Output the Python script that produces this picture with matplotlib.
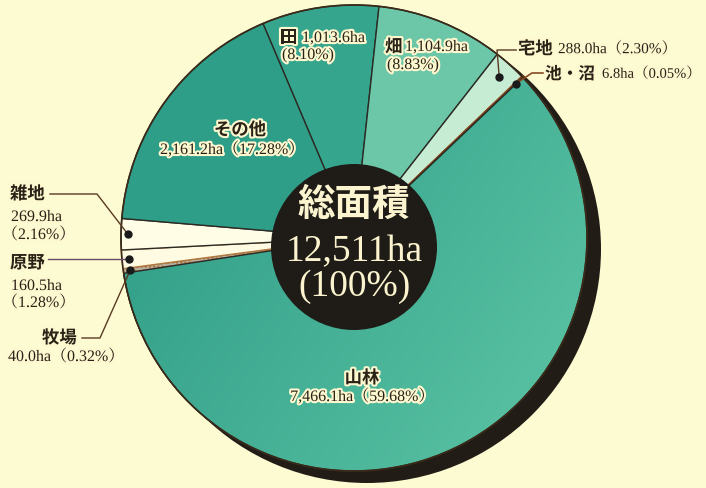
import matplotlib
matplotlib.use("Agg")
import matplotlib.pyplot as plt
import numpy as np
from matplotlib.patches import Wedge, Circle
import matplotlib.patheffects as pe

# ---------------- data ----------------
categories = ['田', '畑', '宅地', '池・沼', '山林', '牧場', '原野', '雑地', 'その他']
areas = [1013.6, 1104.9, 288.0, 6.8, 7466.1, 40.0, 160.5, 269.9, 2161.2]
percents = [8.10, 8.83, 2.30, 0.05, 59.68, 0.32, 1.28, 2.16, 17.28]
total_label = '総面積'
total_area = 12511
total_pct = 100

# ---------------- style ----------------
BG = '#fdfbd2'
colors = ['#35a58d', '#6cc6a8', '#c6ecd3', '#fcf8dc', '#3aae93',
          '#b8b0a2', '#fffbe2', '#fffde6', '#2f9e88']
edges = ['#2b2b25', '#2b2b25', '#2b2b25', '#8a4a20', '#2b2b25',
         '#a86a35', '#b07a40', '#2b2b25', '#2b2b25']

W, H = 706, 488
fig = plt.figure(figsize=(W / 100, H / 100), dpi=100, facecolor=BG)
ax = fig.add_axes([0, 0, 1, 1])
ax.set_xlim(0, W)
ax.set_ylim(0, H)
ax.set_aspect('equal')
ax.axis('off')
ax.set_facecolor(BG)


def Y(y):
    return H - y


cx, cy, R = 354, Y(238), 233
start = 113.0

# shadow
ax.add_patch(Circle((cx + 13, cy - 11), R + 1, facecolor='#221c16', edgecolor='none', zorder=1))

tot = sum(areas)
angles = []
a = start
wedges = []
for i, v in enumerate(areas):
    span = v / tot * 360
    t2, t1 = a, a - span
    angles.append((t1, t2))
    lw = 1.0
    if categories[i] == '池・沼':
        lw = 2.2
    w = Wedge((cx, cy), R, t1, t2, facecolor=colors[i], edgecolor=edges[i],
              linewidth=lw, zorder=2)
    if categories[i] == '牧場':
        w.set_hatch('....')
    ax.add_patch(w)
    wedges.append(w)
    a = t1

# gradient on 山林
i_m = categories.index('山林')
gx, gy = np.meshgrid(np.linspace(0, 1, 200), np.linspace(0, 1, 200))
g = np.clip(0.6 * gx + 0.4 * (1 - gy), 0, 1)
c0 = np.array([0x28, 0x96, 0x82]) / 255
c1 = np.array([0x5e, 0xc6, 0xa6]) / 255
img = c0[None, None, :] * (1 - g[..., None]) + c1[None, None, :] * g[..., None]
im = ax.imshow(img, extent=(cx - R, cx + R, cy - R, cy + R), origin='lower',
               zorder=2.1, interpolation='bilinear')
im.set_clip_path(wedges[i_m])
ax.add_patch(Wedge((cx, cy), R, *angles[i_m], facecolor='none', edgecolor=edges[i_m],
                   linewidth=1.0, zorder=2.2))

# pie outline
ax.add_patch(Circle((cx, cy), R, facecolor='none', edgecolor='#3a2a1a', linewidth=1.2, zorder=2.3))

# center disc
ax.add_patch(Circle((354, Y(247)), 83, facecolor='#1f1c17', edgecolor='none', zorder=3))

halo = [pe.withStroke(linewidth=3, foreground='#fdf8d0')]
JP = 'Noto Sans CJK JP'
SERIF = ['Liberation Serif', 'Noto Serif CJK JP', 'Noto Sans CJK JP']
TXT = '#2a2216'


def fmt_a(v):
    return f'{v:,.1f}ha'


def fmt_p(p):
    return f'（{p:.2f}%）'


def fmt_p2(p):
    return f'({p:.2f}%)'


def lab(x, y, s, size=12.5, ha='left', va='center'):
    ax.text(x, Y(y), s, fontsize=size, family=JP, weight='bold', color=TXT,
            ha=ha, va=va, path_effects=halo, zorder=6)


def num(x, y, s, size=11.5, ha='left', va='center'):
    ax.text(x, Y(y), s, fontsize=size, family=SERIF, color=TXT,
            ha=ha, va=va, path_effects=halo, zorder=6)


k = {c: i for i, c in enumerate(categories)}

# 田
i = k['田']
lab(280, 38, categories[i])
num(302, 38, fmt_a(areas[i]))
num(282, 55, fmt_p2(percents[i]))
# 畑
i = k['畑']
lab(385, 47, categories[i])
num(405, 47, fmt_a(areas[i]))
num(387, 65, fmt_p2(percents[i]))
# 宅地
i = k['宅地']
lab(518, 49, categories[i])
num(558, 49, fmt_a(areas[i]) + fmt_p(percents[i]), size=11)
# 池・沼
i = k['池・沼']
lab(545, 74, categories[i], size=12)
num(602, 74, fmt_a(areas[i]) + fmt_p(percents[i]), size=10.5)
# その他
i = k['その他']
lab(240, 130, categories[i], ha='center')
num(232, 150, fmt_a(areas[i]) + fmt_p(percents[i]), ha='center')
# 雑地
i = k['雑地']
lab(10, 194, categories[i])
num(11, 217, fmt_a(areas[i]))
num(2, 235, fmt_p(percents[i]))
# 原野
i = k['原野']
lab(10, 263, categories[i])
num(11, 286, fmt_a(areas[i]))
num(2, 303, fmt_p(percents[i]))
# 牧場
i = k['牧場']
lab(42, 338, categories[i])
num(8, 357, fmt_a(areas[i]) + fmt_p(percents[i]))
# 山林
i = k['山林']
lab(362, 378, categories[i], ha='center')
num(362, 397, fmt_a(areas[i]) + fmt_p(percents[i]), ha='center')

# center text
ax.text(354, Y(204), total_label, fontsize=27, family=JP, weight='bold',
        color='#fbf4cf', ha='center', va='center', zorder=6)
ax.text(354, Y(252), f'{total_area:,}ha', fontsize=27, family=SERIF,
        color='#fbf4cf', ha='center', va='center', zorder=6)
ax.text(354, Y(287), f'({total_pct}%)', fontsize=27, family=SERIF,
        color='#fbf4cf', ha='center', va='center', zorder=6)


# dots and leader lines
def dot_pos(name, rf=0.97):
    t1, t2 = angles[k[name]]
    m = np.deg2rad((t1 + t2) / 2)
    return cx + rf * R * np.cos(m), cy + rf * R * np.sin(m)


LC = '#5a3a22'
d = dot_pos('宅地', 0.93)
ax.plot([517, 497, d[0]], [Y(50), Y(50), d[1]], color=LC, lw=1.0, zorder=5)
ax.plot(*d, 'o', ms=5, color='#1a1a1a', zorder=5)

d = dot_pos('池・沼', 0.96)
ax.plot([543, 532, d[0]], [Y(73), Y(73), d[1]], color='#8a4a20', lw=1.2, zorder=5)
ax.plot(*d, 'o', ms=5, color='#1a1a1a', zorder=5)

d = dot_pos('雑地', 0.97)
ax.plot([50, 97, d[0]], [Y(194), Y(194), d[1]], color=LC, lw=1.0, zorder=5)
ax.plot(*d, 'o', ms=5, color='#1a1a1a', zorder=5)

d = dot_pos('原野', 0.97)
ax.plot([48, d[0]], [d[1], d[1]], color='#6a4a6a', lw=1.0, zorder=5)
ax.plot(*d, 'o', ms=5, color='#1a1a1a', zorder=5)

d = dot_pos('牧場', 0.97)
ax.plot([82, 100, d[0]], [Y(338), Y(338), d[1]], color=LC, lw=1.0, zorder=5)
ax.plot(*d, 'o', ms=5, color='#1a1a1a', zorder=5)

fig.savefig('out.png', dpi=100, facecolor=BG)
